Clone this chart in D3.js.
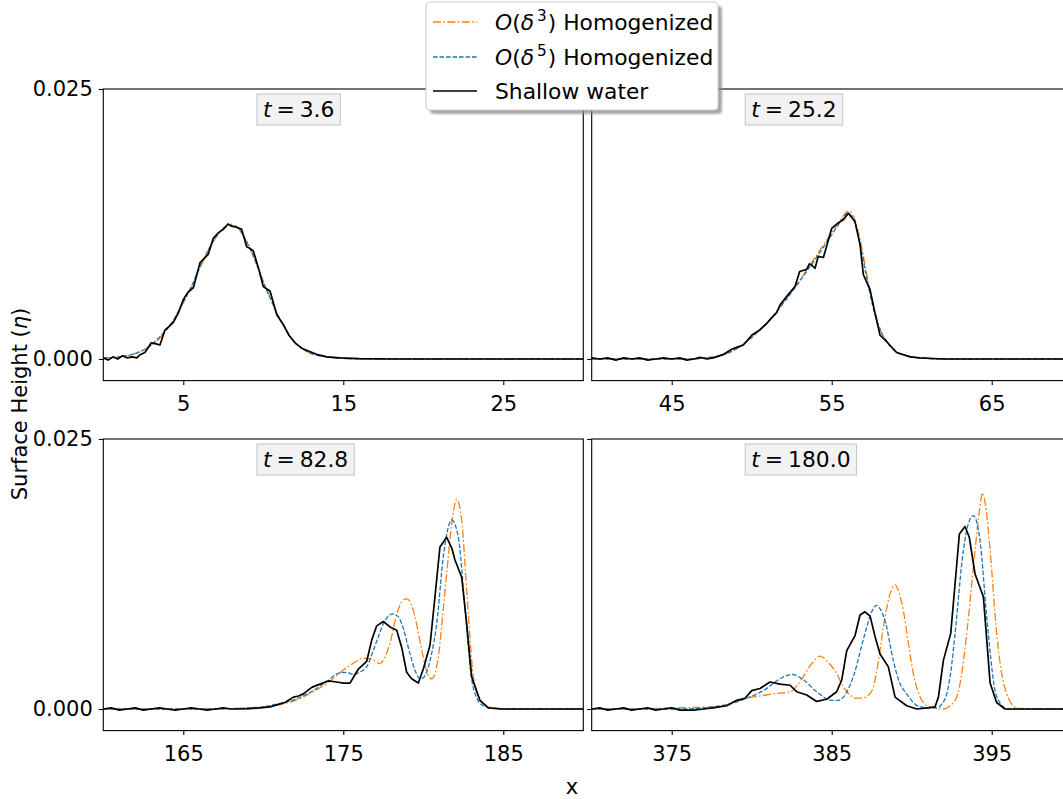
<!DOCTYPE html>
<html>
<head>
<meta charset="utf-8">
<script src="https://cdn.jsdelivr.net/npm/d3@7"></script>
<style>
  html, body { margin: 0; padding: 0; background: #fff; }
  svg { display: block; font-family: "DejaVu Sans", sans-serif; }
</style>
</head>
<body>
<svg id="chart" width="1063" height="799"></svg>
<script>
// ---------------- DATA ----------------
const panelTimes = ["3.6", "25.2", "82.8", "180.0"];
const xDomains = [[0, 30], [40, 70], [160, 190], [370, 400]];
const xTicks = [[5, 15, 25], [45, 55, 65], [165, 175, 185], [375, 385, 395]];
const yTicks = [0, 0.025];
const yDomain = [-0.002, 0.025];
const seriesNames = ["O(δ3) Homogenized", "O(δ5) Homogenized", "Shallow water"];

// Panel 1 (t = 3.6)
const p1Order3 = [[0,0.0001],[1,0.0002],[2,0.0005],[3,0.0013],[3.5,0.0019],[4,0.0028],[4.5,0.0038],[5,0.0052],[5.5,0.0066],[6,0.0083],[6.5,0.0099],[7,0.0112],[7.5,0.0121],[7.9,0.0125],[8.4,0.0122],[8.8,0.0113],[9.2,0.0102],[9.6,0.0088],[10,0.0072],[10.5,0.0055],[11,0.0038],[11.5,0.0025],[12,0.0015],[12.5,0.0009],[13,0.0005],[14,0.0002],[15,0.00005],[17,0],[30,0]];
const p1Order5 = [[0,0.0001],[1,0.0002],[2,0.0005],[3,0.0013],[3.5,0.0020],[4,0.0028],[4.5,0.0039],[5,0.0053],[5.5,0.0067],[6,0.0084],[6.5,0.0099],[7,0.0112],[7.5,0.0121],[7.9,0.0124],[8.4,0.0121],[8.8,0.0113],[9.2,0.0101],[9.6,0.0087],[10,0.0071],[10.5,0.0054],[11,0.0038],[11.5,0.0025],[12,0.0015],[12.5,0.0009],[13,0.0005],[14,0.0002],[15,0.00005],[17,0],[30,0]];
const p1Shallow = [[0,0.0001],[0.3,-0.0001],[0.6,0.0002],[0.9,0.0000],[1.2,0.0003],[1.5,0.0001],[1.8,0.0002],[2.1,0.0001],[2.3,0.0004],[2.6,0.0006],[3.0,0.0015],[3.3,0.0014],[3.54,0.0013],[3.86,0.0027],[4.1,0.0030],[4.38,0.0034],[4.7,0.0043],[5.0,0.0055],[5.3,0.0062],[5.63,0.0066],[6.04,0.0089],[6.3,0.0093],[6.56,0.0097],[6.88,0.0112],[7.2,0.0117],[7.5,0.0120],[7.8,0.0125],[8.0,0.0123],[8.34,0.0122],[8.65,0.0120],[8.96,0.0104],[9.2,0.0102],[9.38,0.0100],[9.7,0.0084],[10.0,0.0067],[10.2,0.0065],[10.42,0.0063],[10.84,0.0041],[11.25,0.0032],[11.6,0.0022],[11.98,0.0015],[12.4,0.0010],[12.9,0.0007],[13.4,0.0004],[13.96,0.0002],[14.8,0.0001],[16,0.00003],[18,0],[30,0]];

// Panel 2 (t = 25.2)
const p2Order3 = [[40,0],[46,0],[47,0.0001],[48,0.0003],[49,0.0009],[50,0.0020],[51,0.0034],[52,0.0053],[53,0.0073],[54,0.0095],[55,0.0117],[55.6,0.0130],[56.05,0.0137],[56.4,0.0131],[56.8,0.0109],[57.2,0.0078],[57.6,0.0050],[58,0.0029],[58.5,0.0015],[59,0.0007],[60,0.0002],[61,0.00005],[62,0],[70,0]];
const p2Order5 = [[40,0],[46,0],[47,0.0001],[48,0.0003],[49,0.0009],[50,0.0020],[51,0.0034],[52,0.0052],[53,0.0072],[54,0.0093],[55,0.0115],[55.6,0.0128],[56.0,0.0135],[56.35,0.0130],[56.75,0.0108],[57.15,0.0078],[57.55,0.0050],[58,0.0028],[58.5,0.0015],[59,0.0007],[60,0.0002],[61,0.00005],[62,0],[70,0]];
const p2Shallow = [[40,0.0001],[40.5,0.0000],[41,0.0001],[41.5,-0.0001],[42,0.0001],[42.5,0.0000],[43,0.0001],[43.5,-0.0001],[44,0.0000],[44.5,0.0001],[45,0.0000],[45.5,0.0001],[45.94,-0.0001],[46.4,0.0000],[46.77,0.00015],[47.2,0.0000],[47.6,0.0001],[48.2,0.0004],[48.75,0.0009],[49.1,0.0011],[49.48,0.0013],[50.0,0.0022],[50.5,0.0027],[50.94,0.0033],[51.3,0.0039],[51.56,0.0043],[51.77,0.0050],[52.19,0.0058],[52.7,0.0067],[53.0,0.0081],[53.44,0.0083],[53.6,0.0088],[53.75,0.0087],[53.96,0.0084],[54.16,0.0095],[54.48,0.0094],[54.79,0.0110],[55.0,0.0121],[55.4,0.0126],[55.73,0.0129],[56.04,0.0135],[56.46,0.0127],[56.77,0.0106],[56.98,0.0078],[57.4,0.0064],[57.7,0.0043],[58.02,0.0022],[58.44,0.0016],[59.06,0.0006],[59.9,0.0002],[60.5,0.0001],[62,0.0000],[70,0]];

// Panel 3 (t = 82.8)
const p3Order3 = [[160,0],[167,0],[168,0.00003],[169,0.0001],[170,0.0002],[171,0.0004],[172,0.0008],[173,0.0015],[174,0.0024],[175,0.0036],[175.7,0.0043],[176.25,0.0047],[176.8,0.0046],[177.29,0.0042],[177.6,0.0048],[177.92,0.0061],[178.34,0.0088],[178.65,0.0099],[178.96,0.0102],[179.25,0.0097],[179.48,0.0085],[180.0,0.0048],[180.25,0.0033],[180.52,0.0028],[180.75,0.0034],[180.94,0.0048],[181.2,0.0085],[181.46,0.0125],[181.78,0.0172],[182.09,0.0194],[182.4,0.0175],[182.71,0.0110],[183.13,0.0030],[183.5,0.0010],[183.96,0.0003],[184.5,0.0001],[185.5,0],[190,0]];
const p3Order5 = [[160,0],[167,0],[168,0.00003],[169,0.0001],[170,0.0002],[171,0.0005],[172,0.0009],[173,0.0016],[174,0.0026],[174.69,0.0033],[175.2,0.0034],[175.63,0.0032],[176.0,0.0034],[176.46,0.0039],[176.8,0.0051],[177.19,0.0067],[177.65,0.0083],[178.09,0.0088],[178.4,0.0086],[178.65,0.0079],[179.17,0.0051],[179.5,0.0035],[179.79,0.0028],[180.0,0.0029],[180.21,0.0034],[180.5,0.0050],[180.84,0.0079],[181.25,0.0141],[181.78,0.0175],[182.19,0.0159],[182.6,0.0094],[183.0,0.0030],[183.35,0.0010],[183.75,0.0003],[184.3,0.0001],[185.5,0],[190,0]];
const p3Shallow = [[160,0.0000],[160.5,0.0001],[161,-0.0001],[161.5,0.0000],[162,0.0001],[162.5,-0.0001],[163,0.0000],[163.5,0.0001],[164,0.0000],[164.5,-0.0001],[165,0.0000],[165.5,0.0001],[166,0.0000],[166.5,-0.0001],[167,0.0000],[167.5,0.0001],[168,0.0000],[168.5,0.0000],[169.17,0.00004],[169.8,0.0001],[170.42,0.0002],[170.9,0.0004],[171.36,0.0006],[171.88,0.0011],[172.2,0.0012],[172.5,0.0014],[173.03,0.0020],[173.54,0.0023],[174.06,0.0026],[174.59,0.0025],[175.0,0.0024],[175.42,0.0024],[175.7,0.0031],[175.94,0.0037],[176.46,0.0044],[176.78,0.0064],[177.09,0.0077],[177.5,0.0081],[177.92,0.0076],[178.34,0.0073],[178.65,0.0057],[178.96,0.0034],[179.27,0.0028],[179.69,0.0024],[180.0,0.0037],[180.42,0.0059],[180.73,0.0104],[181.04,0.0150],[181.46,0.0159],[181.78,0.0149],[181.98,0.0138],[182.4,0.0122],[182.71,0.0079],[183.02,0.0030],[183.54,0.0008],[184.06,0.0001],[184.8,0.0000],[190,0]];

// Panel 4 (t = 180.0)
const p4Order3 = [[370,0],[373,0],[375,0.0001],[377.6,0.0002],[378.7,0.0005],[379.69,0.0010],[380.5,0.0012],[381.35,0.0014],[382.4,0.0016],[382.85,0.0022],[383.23,0.0030],[383.75,0.0042],[384.27,0.0049],[384.8,0.0043],[385.31,0.0033],[385.7,0.0021],[386.15,0.0013],[386.5,0.0010],[386.88,0.0010],[387.3,0.0013],[387.6,0.0020],[387.9,0.0042],[388.23,0.0076],[388.6,0.0104],[388.96,0.0115],[389.2,0.0108],[389.48,0.0091],[389.8,0.0060],[390.1,0.0033],[390.5,0.0012],[390.94,0.0003],[391.4,0.0001],[391.98,0.0000],[392.4,0.0003],[392.81,0.0011],[393.1,0.0030],[393.44,0.0070],[393.96,0.0147],[394.2,0.0180],[394.44,0.0200],[394.67,0.0182],[394.9,0.0147],[395.31,0.0070],[395.6,0.0035],[395.94,0.0014],[396.56,0.0001],[397.2,0],[400,0]];
const p4Order5 = [[370,0],[373,0],[375.52,0.0000],[377.6,0.0002],[378.7,0.0005],[379.69,0.0010],[380.73,0.0017],[381.77,0.0028],[382.5,0.0032],[383.23,0.0027],[384.06,0.0016],[385.0,0.0008],[385.4,0.0008],[385.73,0.0011],[386.35,0.0030],[387.08,0.0070],[387.5,0.0090],[387.81,0.0096],[388.05,0.0092],[388.33,0.0082],[388.85,0.0045],[389.2,0.0026],[389.69,0.0014],[390.1,0.0006],[390.52,0.0002],[391.56,0.0001],[391.9,0.0005],[392.19,0.0014],[392.45,0.0035],[392.71,0.0070],[393.23,0.0147],[393.55,0.0172],[393.85,0.0179],[394.27,0.0156],[394.69,0.0085],[395.21,0.0017],[395.55,0.0005],[395.94,0.0000],[400,0]];
const p4Shallow = [[370,0.0000],[370.5,0.0001],[371,-0.0001],[371.5,0.0000],[372,0.0001],[372.5,-0.0001],[373,0.0000],[373.5,0.0001],[374,-0.0001],[374.5,0.0000],[375,0.0001],[375.52,-0.0001],[376.35,-0.0001],[377.0,0.0000],[377.6,0.0001],[378.44,0.0003],[379.06,0.0008],[379.58,0.0010],[380.0,0.0017],[380.52,0.0019],[381.14,0.0025],[381.77,0.0023],[382.4,0.0022],[382.81,0.0016],[383.44,0.0013],[384.06,0.0007],[384.69,0.0009],[385.31,0.0016],[385.63,0.0027],[385.94,0.0054],[386.46,0.0068],[386.77,0.0087],[387.08,0.0090],[387.4,0.0086],[387.71,0.0067],[388.02,0.0051],[388.54,0.0039],[388.96,0.0011],[389.69,0.0003],[390.31,0.0000],[391.0,0.0001],[391.46,0.0002],[391.67,0.0011],[391.98,0.0045],[392.44,0.0070],[392.71,0.0116],[392.98,0.0162],[393.33,0.0169],[393.6,0.0159],[393.96,0.0125],[394.48,0.0104],[394.9,0.0024],[395.31,0.0006],[395.83,0.0000],[397,0.0000],[400,0]];

const order3Data = [p1Order3, p2Order3, p3Order3, p4Order3];
const order5Data = [p1Order5, p2Order5, p3Order5, p4Order5];
const shallowData = [p1Shallow, p2Shallow, p3Shallow, p4Shallow];

// ---------------- LAYOUT ----------------
const svg = d3.select("#chart");
const FONT = 21;
const LFONT = 21.8;
const colOrange = "#ff7f0e", colBlue = "#1f77b4", colBlack = "#000000";
const dashOrange = "8,2.4,1.6,2.4";
const dashBlue = "4.6,1.9";
const lefts = [103.3, 591.7];
const tops = [89, 439];
const PW = 480, PH = 291.6;

const defs = svg.append("defs");
const filt = defs.append("filter").attr("id", "blur").attr("x", "-10%").attr("y", "-10%").attr("width", "120%").attr("height", "130%");
filt.append("feGaussianBlur").attr("stdDeviation", 1.2);

panelTimes.forEach((tLabel, i) => {
  const col = i % 2, row = Math.floor(i / 2);
  const left = lefts[col], top = tops[row];
  const x = d3.scaleLinear().domain(xDomains[i]).range([0, PW]);
  const y = d3.scaleLinear().domain(yDomain).range([PH, 0]);
  const g = svg.append("g").attr("transform", `translate(${left},${top})`);

  defs.append("clipPath").attr("id", "clip" + i)
    .append("rect").attr("x", 0).attr("y", 0).attr("width", PW).attr("height", PH);

  // axes
  const xa = g.append("g").attr("transform", `translate(0,${PH})`)
    .call(d3.axisBottom(x).tickValues(xTicks[i]).tickSize(4.5).tickPadding(6).tickFormat(d3.format("d")));
  const ya = g.append("g")
    .call(d3.axisLeft(y).tickValues(yTicks).tickSize(4.5).tickPadding(6)
      .tickFormat(col === 0 ? d3.format(".3f") : () => ""));
  [xa, ya].forEach(a => {
    a.select(".domain").remove();
    a.selectAll(".tick line").attr("stroke", "#000").attr("stroke-width", 1.1);
    a.selectAll(".tick text").attr("fill", "#000").style("font-size", FONT + "px").style("font-family", "DejaVu Sans");
  });
  xa.selectAll(".tick text").attr("dy", "0.95em");

  // lines
  const lg = g.append("g").attr("clip-path", `url(#clip${i})`);
  const smooth = d3.line().x(d => x(d[0])).y(d => y(d[1])).curve(d3.curveMonotoneX);
  const jag = d3.line().x(d => x(d[0])).y(d => y(d[1]));
  lg.append("path").datum(order3Data[i]).attr("d", smooth)
    .attr("fill", "none").attr("stroke", colOrange).attr("stroke-width", 1.3).attr("stroke-dasharray", dashOrange);
  lg.append("path").datum(order5Data[i]).attr("d", smooth)
    .attr("fill", "none").attr("stroke", colBlue).attr("stroke-width", 1.3).attr("stroke-dasharray", dashBlue);
  lg.append("path").datum(shallowData[i]).attr("d", jag)
    .attr("fill", "none").attr("stroke", colBlack).attr("stroke-width", 1.7).attr("stroke-linejoin", "round");

  // spines
  g.append("rect").attr("x", 0).attr("y", 0).attr("width", PW).attr("height", PH)
    .attr("fill", "none").attr("stroke", "#000").attr("stroke-width", 1.1);

  // time box
  const bx = PW * 0.32, byTop = 5;
  const tb = g.append("g");
  const rectEl = tb.append("rect").attr("fill", "#f2f2f2").attr("stroke", "#cccccc").attr("stroke-width", 1.2);
  const txt = tb.append("text").attr("x", bx + 6).attr("y", byTop + 22.5)
    .style("font-size", LFONT + "px").attr("fill", "#000");
  txt.append("tspan").style("font-style", "italic").text("t");
  txt.append("tspan").attr("dx", 5).text("=");
  txt.append("tspan").attr("dx", 5).text(tLabel);
  const bb = txt.node().getBBox();
  rectEl.attr("x", bx).attr("y", byTop).attr("width", bb.width + 12).attr("height", 31);
});

// axis labels
svg.append("text").attr("x", 572).attr("y", 794).attr("text-anchor", "middle")
  .style("font-size", FONT + "px").text("x");
const yl = svg.append("text").attr("transform", "translate(27,404) rotate(-90)")
  .attr("text-anchor", "middle").style("font-size", FONT + "px");
yl.append("tspan").text("Surface Height (");
yl.append("tspan").style("font-style", "italic").text("η");
yl.append("tspan").text(")");

// legend
const L = { x: 426, y: 2, w: 292, h: 108 };
const leg = svg.append("g");
leg.append("rect").attr("x", L.x + 4).attr("y", L.y + 4).attr("width", L.w).attr("height", L.h)
  .attr("rx", 4).attr("fill", "#8a8a8a").attr("opacity", 0.75).attr("filter", "url(#blur)");
leg.append("rect").attr("x", L.x).attr("y", L.y).attr("width", L.w).attr("height", L.h)
  .attr("rx", 4).attr("fill", "#fff").attr("stroke", "#cccccc").attr("stroke-width", 1.1);
const legRows = [
  { color: colOrange, dash: dashOrange, w: 1.3, sup: "3" },
  { color: colBlue, dash: dashBlue, w: 1.3, sup: "5" },
  { color: colBlack, dash: null, w: 1.7, sup: null }
];
const rowYs = [22, 57, 91];
legRows.forEach((r, k) => {
  const cy = rowYs[k];
  leg.append("line").attr("x1", 433).attr("x2", 477).attr("y1", cy).attr("y2", cy)
    .attr("stroke", r.color).attr("stroke-width", r.w).attr("stroke-dasharray", r.dash);
  const t = leg.append("text").attr("x", 495).attr("y", cy + 8).style("font-size", LFONT + "px");
  if (r.sup) {
    t.append("tspan").style("font-style", "italic").text("O");
    t.append("tspan").text("(");
    t.append("tspan").style("font-style", "italic").text("δ");
    t.append("tspan").attr("dy", -9).attr("dx", 3).style("font-size", (LFONT * 0.7) + "px").text(r.sup);
    t.append("tspan").attr("dy", 9).attr("dx", 1).text(") Homogenized");
  } else {
    t.text(seriesNames[k]);
  }
});
</script>
</body>
</html>
